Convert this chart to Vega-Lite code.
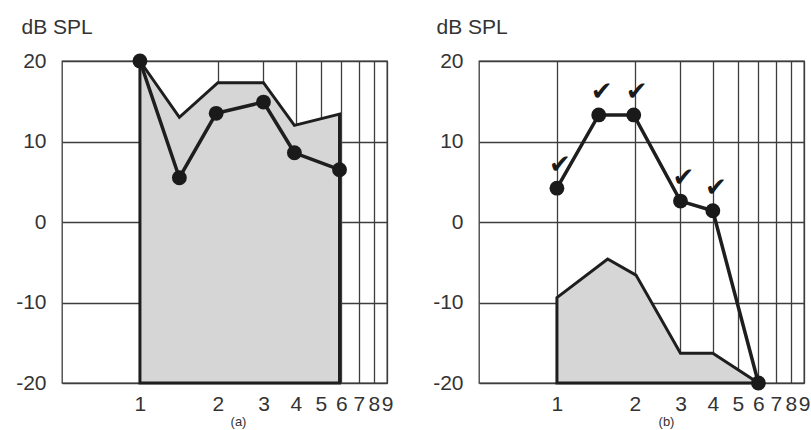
{
  "$schema": "https://vega.github.io/schema/vega-lite/v6.json",
  "background": "white",
  "padding": {"left": 14, "top": 15, "right": 5, "bottom": 2},
  "spacing": 37,
  "config": {
    "font": "Liberation Sans",
    "view": {"stroke": "#3d3d3d", "strokeWidth": 1.3},
    "axis": {
      "gridColor": "#3d3d3d", "gridWidth": 1.3, "gridOpacity": 1,
      "ticks": false, "domain": false,
      "labelFont": "Liberation Sans", "labelFontSize": 21, "labelColor": "#333333",
      "titleFont": "Liberation Sans", "titleColor": "#333333", "titleFontWeight": "normal",
      "labelOverlap": false, "labelFlush": false
    }
  },
  "datasets": {
    "a_line": [
      {"freq": 1, "db": 20},
      {"freq": 1.42, "db": 5.5},
      {"freq": 1.97, "db": 13.5},
      {"freq": 3, "db": 14.9},
      {"freq": 3.95, "db": 8.6},
      {"freq": 5.9, "db": 6.5}
    ],
    "a_area": [
      {"freq": 1, "db": 20},
      {"freq": 1.42, "db": 13.0},
      {"freq": 2, "db": 17.3},
      {"freq": 3, "db": 17.3},
      {"freq": 3.95, "db": 12.0},
      {"freq": 5.9, "db": 13.4}
    ],
    "b_line": [
      {"freq": 1, "db": 4.2, "checked": true},
      {"freq": 1.45, "db": 13.3, "checked": true},
      {"freq": 1.98, "db": 13.3, "checked": true},
      {"freq": 3, "db": 2.6, "checked": true},
      {"freq": 4, "db": 1.4, "checked": true},
      {"freq": 6, "db": -20, "checked": false}
    ],
    "b_area": [
      {"freq": 1, "db": -9.4},
      {"freq": 1.57, "db": -4.6},
      {"freq": 2.02, "db": -6.6},
      {"freq": 3, "db": -16.3},
      {"freq": 4, "db": -16.3},
      {"freq": 6, "db": -20}
    ]
  },
  "hconcat": [
    {
      "width": 325,
      "height": 322,
      "layer": [
        {
          "data": {"name": "a_area"},
          "mark": {"type": "area", "fill": "#d6d6d6", "stroke": "#1e1e1e", "strokeWidth": 3, "strokeJoin": "miter"},
          "encoding": {
            "x": {"field": "freq", "type": "quantitative", "scale": {"type": "log", "domain": [0.5, 9], "nice": false},
              "axis": {"values": [1,2,3,4,5,6,7,8,9], "format": "d", "grid": true, "labelPadding": 10,
                "title": "(a)", "titleFontSize": 13, "titleX": 176, "titleY": 42, "titleBaseline": "alphabetic"}},
            "y": {"field": "db", "type": "quantitative", "scale": {"domain": [-20, 20], "nice": false},
              "axis": {"values": [-20,-10,0,10,20], "labelExpr": "'' + datum.value", "grid": true, "labelPadding": 16,
                "title": "dB SPL", "titleAngle": 0, "titleAlign": "left", "titleBaseline": "alphabetic",
                "titleX": -41, "titleY": -28, "titleFontSize": 21}},
            "y2": {"datum": -20}
          }
        },
        {
          "data": {"name": "a_line"},
          "mark": {"type": "line", "color": "#1e1e1e", "strokeWidth": 3.5},
          "encoding": {
            "x": {"field": "freq", "type": "quantitative"},
            "y": {"field": "db", "type": "quantitative"}
          }
        },
        {
          "data": {"name": "a_line"},
          "mark": {"type": "point", "filled": true, "color": "#1a1a1a", "size": 220, "opacity": 1},
          "encoding": {
            "x": {"field": "freq", "type": "quantitative"},
            "y": {"field": "db", "type": "quantitative"}
          }
        }
      ]
    },
    {
      "width": 325,
      "height": 322,
      "layer": [
        {
          "data": {"name": "b_area"},
          "mark": {"type": "area", "fill": "#d6d6d6", "stroke": "#1e1e1e", "strokeWidth": 3, "strokeJoin": "miter"},
          "encoding": {
            "x": {"field": "freq", "type": "quantitative", "scale": {"type": "log", "domain": [0.5, 9], "nice": false},
              "axis": {"values": [1,2,3,4,5,6,7,8,9], "format": "d", "grid": true, "labelPadding": 10,
                "title": "(b)", "titleFontSize": 13, "titleX": 187, "titleY": 42, "titleBaseline": "alphabetic"}},
            "y": {"field": "db", "type": "quantitative", "scale": {"domain": [-20, 20], "nice": false},
              "axis": {"values": [-20,-10,0,10,20], "labelExpr": "'' + datum.value", "grid": true, "labelPadding": 16,
                "title": "dB SPL", "titleAngle": 0, "titleAlign": "left", "titleBaseline": "alphabetic",
                "titleX": -43, "titleY": -28, "titleFontSize": 21}},
            "y2": {"datum": -20}
          }
        },
        {
          "data": {"name": "b_line"},
          "mark": {"type": "line", "color": "#1e1e1e", "strokeWidth": 3.5},
          "encoding": {
            "x": {"field": "freq", "type": "quantitative"},
            "y": {"field": "db", "type": "quantitative"}
          }
        },
        {
          "data": {"name": "b_line"},
          "mark": {"type": "point", "filled": true, "color": "#1a1a1a", "size": 220, "opacity": 1},
          "encoding": {
            "x": {"field": "freq", "type": "quantitative"},
            "y": {"field": "db", "type": "quantitative"}
          }
        },
        {
          "data": {"name": "b_line"},
          "transform": [{"filter": "datum.checked"}],
          "mark": {"type": "text", "text": "✔", "font": "DejaVu Sans", "fontSize": 26, "color": "#1a1a1a", "dy": -23, "dx": 3},
          "encoding": {
            "x": {"field": "freq", "type": "quantitative"},
            "y": {"field": "db", "type": "quantitative"}
          }
        }
      ]
    }
  ]
}
